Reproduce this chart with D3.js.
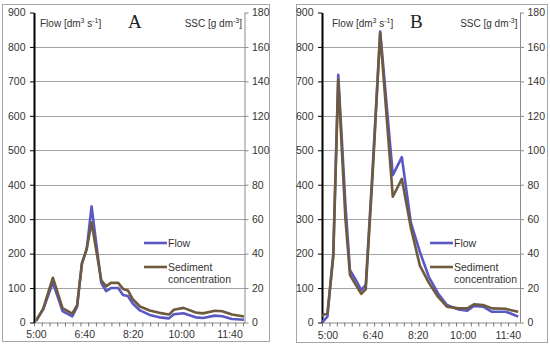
<!DOCTYPE html>
<html lang="en">
<head>
<meta charset="UTF-8">
<title>Flow and SSC</title>
<script src="https://cdn.jsdelivr.net/npm/d3@7"></script>
<style>
    body { margin: 0; background: #fff; }
    #chart { width: 550px; height: 348px; }
</style>
</head>
<body>
<div id="chart"></div>
<script>
    // minutes after 5:00
    var timesA = [0, 15, 35, 55, 75, 85, 95, 105, 115, 135, 145, 155, 170, 180, 190, 200, 215, 235, 255, 275, 285, 305, 330, 345, 370, 385, 405, 430];
    var flowA  = [4, 38, 116, 33, 18, 45, 172, 213, 337, 115, 91, 100, 100, 80, 77, 55, 35, 22, 15, 12, 24, 27, 15, 13, 20, 18, 10, 8];
    var sscA   = [1, 8, 26, 8.3, 5.2, 10, 34, 43, 58, 24.5, 21, 23, 23, 19.5, 18.6, 13.5, 9.3, 7, 5.6, 4.6, 7.4, 8.5, 5.8, 5.3, 6.8, 6.5, 4.6, 3.5];

    var timesB = [-12, 0, 13, 24, 40, 50, 65, 75, 85, 100, 117, 145, 165, 185, 205, 225, 245, 265, 290, 310, 325, 345, 365, 395, 405, 423];
    var flowB  = [0, 17, 200, 719, 340, 152, 119, 94, 109, 440, 845, 428, 480, 290, 205, 132, 85, 51, 38, 34, 48, 46, 31, 31, 27, 17];
    var sscB   = [4, 5.5, 38, 141, 60, 27.6, 21, 16.6, 19.3, 85, 168, 73, 83.4, 55, 33, 23, 15, 9.2, 8.2, 8.2, 10.6, 10.2, 8.2, 8, 7.2, 6.2];

    var flowTicks = [0, 100, 200, 300, 400, 500, 600, 700, 800, 900];
    var sscTicks = [0, 20, 40, 60, 80, 100, 120, 140, 160, 180];
    var timeLabels = [0, 100, 200, 300, 400];

    var font = "'Liberation Sans', Arial, sans-serif";
    var flowColor = "#5a58c4",
        sedColor = "#6e5b3d";

    var svg = d3.select("#chart")
        .append("svg")
        .attr("width", 550)
        .attr("height", 348);

    function fmtTime(m) {
        var h = 5 + Math.floor(m / 60), mm = m % 60;
        return h + ":" + (mm < 10 ? "0" : "") + mm;
    }

    function drawPanel(p) {
        var g = svg.append("g");

        // panel frame
        g.append("rect")
            .attr("x", p.box[0] + 0.5).attr("y", p.box[1] + 0.5)
            .attr("width", p.box[2] - p.box[0]).attr("height", p.box[3] - p.box[1])
            .attr("fill", "#fff").attr("stroke", "#a6a6a6");

        var x = d3.scaleLinear().domain(p.tDomain).range([p.left, p.right]);
        var y = d3.scaleLinear().domain([0, 900]).range([322.5, 12.5]);
        var y2 = d3.scaleLinear().domain([0, 180]).range([322.5, 12.5]);

        // gridlines
        g.selectAll(".grid")
            .data(flowTicks.filter(d => d > 0 && d < 900))
            .enter().append("line")
            .attr("x1", p.left).attr("x2", p.right)
            .attr("y1", d => Math.round(y(d)) + 0.5).attr("y2", d => Math.round(y(d)) + 0.5)
            .attr("stroke", "#a3a3a3").attr("stroke-width", 1);

        // x axis: minor ticks
        var minor = d3.range(p.tDomain[0], p.tDomain[1] + 1, p.tickStep);
        var xAxis = g.append("g")
            .attr("transform", "translate(0,322.5)")
            .call(d3.axisBottom(x).tickValues(minor).tickSize(4).tickSizeOuter(0).tickFormat(""));
        xAxis.select(".domain").attr("stroke", "#8c8c8c");
        xAxis.selectAll(".tick line").attr("stroke", "#7a7a7a");

        var xLab = g.append("g")
            .attr("transform", "translate(0,322.5)")
            .call(d3.axisBottom(x).tickValues(timeLabels).tickSize(0).tickPadding(p.xPad).tickFormat(fmtTime));
        xLab.select(".domain").remove();
        xLab.selectAll("text").attr("font-family", font).attr("font-size", "10.5px").attr("fill", "#333");

        // right axis (SSC)
        var yr = g.append("g")
            .attr("transform", "translate(" + p.right + ",0)")
            .call(d3.axisRight(y2).tickValues(sscTicks).tickSize(4).tickSizeOuter(0).tickPadding(3.5));
        yr.select(".domain").attr("stroke", "#8c8c8c");
        yr.selectAll(".tick line").attr("stroke", "#8c8c8c");
        yr.selectAll("text").attr("font-family", font).attr("font-size", "10.5px").attr("fill", "#333");

        // left axis (flow)
        var yl = g.append("g")
            .attr("transform", "translate(" + p.left + ",0)")
            .call(d3.axisLeft(y).tickValues(flowTicks).tickSize(4).tickSizeOuter(0).tickPadding(4.5));
        yl.select(".domain").attr("stroke", "#000").attr("stroke-width", 2);
        yl.selectAll(".tick line").attr("stroke", "#000");
        yl.selectAll("text").attr("font-family", font).attr("font-size", "10.5px").attr("fill", "#333");

        // series
        var flowLine = d3.line().x((d, i) => x(p.t[i])).y(d => y(d));
        var sedLine = d3.line().x((d, i) => x(p.t[i])).y(d => y2(d));

        g.append("path").datum(p.flow)
            .attr("d", flowLine).attr("fill", "none")
            .attr("stroke", flowColor).attr("stroke-width", 2.6).attr("stroke-linejoin", "round");
        g.append("path").datum(p.ssc)
            .attr("d", sedLine).attr("fill", "none")
            .attr("stroke", sedColor).attr("stroke-width", 2.6).attr("stroke-linejoin", "round");

        // axis titles
        var t1 = g.append("text")
            .attr("x", p.flowTitleX).attr("y", 27)
            .attr("font-family", font).attr("font-size", "10px").attr("fill", "#333");
        t1.append("tspan").text("Flow [dm");
        t1.append("tspan").attr("font-size", "7px").attr("dy", -4).text("3");
        t1.append("tspan").attr("dy", 4).text(" s");
        t1.append("tspan").attr("font-size", "7px").attr("dy", -4).text("-1");
        t1.append("tspan").attr("dy", 4).text("]");

        var t2 = g.append("text")
            .attr("x", p.right - 2.5).attr("y", 27)
            .attr("text-anchor", "end")
            .attr("font-family", font).attr("font-size", "10px").attr("fill", "#333");
        t2.append("tspan").text("SSC [g dm");
        t2.append("tspan").attr("font-size", "7px").attr("dy", -4).text("-3");
        t2.append("tspan").attr("dy", 4).text("]");

        g.append("text")
            .attr("x", p.letterX).attr("y", 27.5)
            .attr("font-family", "'Liberation Serif', 'Times New Roman', serif")
            .attr("font-size", "19px").attr("fill", "#222")
            .text(p.letter);

        // legend
        var lg = g.append("g").attr("transform", "translate(" + p.legendX + ",0)");
        lg.append("line").attr("x1", 0).attr("x2", 23).attr("y1", 243).attr("y2", 243)
            .attr("stroke", flowColor).attr("stroke-width", 2.6);
        lg.append("line").attr("x1", 0).attr("x2", 23).attr("y1", 267).attr("y2", 267)
            .attr("stroke", sedColor).attr("stroke-width", 2.6);
        var legText = [["Flow", 247], ["Sediment", 271], ["concentration", 283]];
        lg.selectAll(".lt").data(legText).enter().append("text")
            .attr("x", 24).attr("y", d => d[1])
            .attr("font-family", font).attr("font-size", "10.5px").attr("fill", "#333")
            .text(d => d[0]);
    }

    drawPanel({
        box: [2, 4, 269, 341], left: 34, right: 244.5, tDomain: [-4, 431], tickStep: 16, xPad: 8,
        t: timesA, flow: flowA, ssc: sscA,
        flowTitleX: 40, letterX: 128, letter: "A", legendX: 144
    });

    drawPanel({
        box: [296, 4, 547, 342], left: 322, right: 520, tDomain: [-12, 427], tickStep: 16.5, xPad: 9,
        t: timesB, flow: flowB, ssc: sscB,
        flowTitleX: 332, letterX: 410, letter: "B", legendX: 430
    });
</script>
</body>
</html>
